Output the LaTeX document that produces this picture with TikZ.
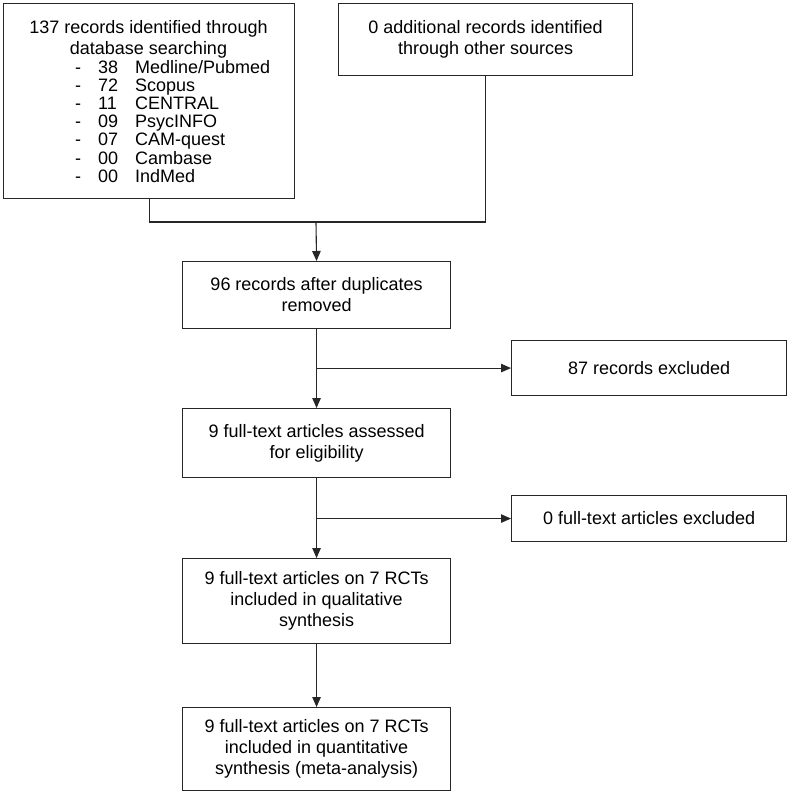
\documentclass[tikz,border=0pt]{standalone}
\usepackage{fontspec}
\setmainfont{Liberation Sans}
\usetikzlibrary{arrows.meta}
\begin{document}
\begin{tikzpicture}[x=1pt,y=-1pt,
  every node/.style={font=\fontsize{18}{21}\selectfont},
  box/.style={draw=black!85,line width=1.1pt,inner sep=0pt,anchor=north west,align=center},
  conn/.style={draw=black!85,line width=1.1pt},
  arr/.style={conn,-{Triangle[length=10pt,width=8.5pt]}}]
\useasboundingbox (0,0) rectangle (789,798);
% boxes
\node[box,minimum width=291pt,minimum height=195pt] (b1) at (3,3) {};
\node[inner sep=0pt,anchor=north,align=center] (t1) at (148.5,20) {137 records identified through\\database searching};
\node[inner sep=0pt,anchor=north west,font=\fontsize{18}{18}\selectfont] (l1) at (75,60.4)
  {\begin{tabular}{@{}p{23pt}@{}p{37pt}@{}l@{}}
   - & 38 & Medline/Pubmed\\
   - & 72 & Scopus\\
   - & 11 & CENTRAL\\
   - & 09 & PsycINFO\\
   - & 07 & CAM-quest\\
   - & 00 & Cambase\\
   - & 00 & IndMed
   \end{tabular}};
\node[box,minimum width=294pt,minimum height=72pt] (b2) at (338,3) {0 additional records identified\\through other sources};
\node[box,minimum width=268pt,minimum height=67pt] (b3) at (182,261) {96 records after duplicates\\removed};
\node[box,minimum width=275pt,minimum height=55pt] (b5) at (511,340) {87 records excluded};
\node[box,minimum width=268pt,minimum height=69pt] (b4) at (182,408) {9 full-text articles assessed\\for eligibility};
\node[box,minimum width=275pt,minimum height=46pt] (b6) at (511,495) {0 full-text articles excluded};
\node[box,minimum width=268pt,minimum height=85pt] (b7) at (182,558) {9 full-text articles on 7 RCTs\\included in qualitative\\synthesis};
\node[box,minimum width=268pt,minimum height=83pt] (b8) at (182,707) {9 full-text articles on 7 RCTs\\included in quantitative\\synthesis (meta-analysis)};
% connectors
\coordinate (j) at (316,222);
\draw[conn] (b1.south) |- (b2.south |- j) -- (b2.south);
\draw[arr] (j) -- (b3.north);
\draw[arr] (b3.south) -- (b4.north);
\draw[arr] (b3.south |- b5.west) -- (b5.west);
\draw[arr] (b4.south) -- (b7.north);
\draw[arr] (b4.south |- b6.west) -- (b6.west);
\draw[arr] (b7.south) -- (b8.north);
\end{tikzpicture}
\end{document}
